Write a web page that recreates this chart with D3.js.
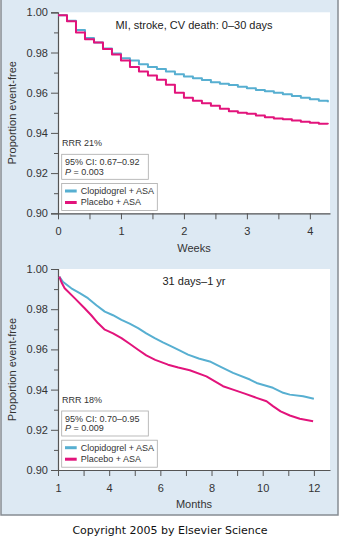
<!DOCTYPE html>
<html>
<head>
<meta charset="utf-8">
<script src="https://cdn.jsdelivr.net/npm/d3@7"></script>
<style>
  body { margin: 0; background: #fff; }
  svg { display: block; font-family: "Liberation Sans", Arial, sans-serif; }
</style>
</head>
<body>
<svg id="chart" width="341" height="537"></svg>
<script>
// ---- data ----
// 0-30 days, daily Kaplan-Meier steps
const days = [0, 1, 2, 3, 4, 5, 6, 7, 8, 9, 10, 11, 12, 13, 14, 15, 16, 17, 18, 19, 20,
  21, 22, 23, 24, 25, 26, 27, 28, 29, 30]
const clopidogrel30 = [0.9985, 0.9958, 0.9912, 0.9872, 0.9850, 0.9820, 0.9795, 0.9771, 0.9760,
  0.9742, 0.9728, 0.9718, 0.9705, 0.9692, 0.9680, 0.9672, 0.9663, 0.9652, 0.9645, 0.9638,
  0.9630, 0.9622, 0.9614, 0.9607, 0.9600, 0.9592, 0.9583, 0.9575, 0.9567, 0.9560, 0.9553]
const placebo30 = [0.9985, 0.9955, 0.9900, 0.9866, 0.9850, 0.9818, 0.9790, 0.9760, 0.9728,
  0.9705, 0.9685, 0.9665, 0.9640, 0.9600, 0.9575, 0.9560, 0.9548, 0.9535, 0.9520, 0.9508,
  0.9500, 0.9495, 0.9487, 0.9478, 0.9472, 0.9468, 0.9462, 0.9456, 0.9450, 0.9446, 0.9443]

// 31 days - 1 yr, [axis position, proportion]
const clopidogrelYear = [[2.05, 0.9962], [2.2, 0.9935], [2.52, 0.9904], [2.85, 0.9880],
  [3.17, 0.9855], [3.5, 0.9820], [3.83, 0.9788], [4.15, 0.9770], [4.48, 0.9747],
  [4.8, 0.9728], [5.13, 0.9706], [5.45, 0.9680], [5.78, 0.9656], [6.1, 0.9635],
  [6.43, 0.9615], [6.75, 0.9595], [7.08, 0.9574], [7.5, 0.9555], [7.93, 0.9540],
  [8.32, 0.9516], [8.84, 0.9483], [9.5, 0.9450], [9.76, 0.9433], [10.4, 0.9409],
  [10.8, 0.9384], [11.06, 0.9375], [11.58, 0.9367], [12.0, 0.9354]]
const placeboYear = [[2.05, 0.9962], [2.15, 0.9930], [2.26, 0.9904], [2.65, 0.9855],
  [3.04, 0.9805], [3.3, 0.9770], [3.56, 0.9731], [3.83, 0.9698], [4.15, 0.9680],
  [4.48, 0.9656], [4.8, 0.9628], [5.13, 0.9598], [5.45, 0.9570], [5.8, 0.9548],
  [6.3, 0.9524], [6.7, 0.9510], [7.15, 0.9496], [7.8, 0.9466], [8.45, 0.9417],
  [8.84, 0.9400], [9.3, 0.9380], [9.76, 0.9359], [10.15, 0.9342], [10.4, 0.9318],
  [10.7, 0.9292], [11.06, 0.9271], [11.45, 0.9255], [11.97, 0.9243]]

const yMajor = [0.90, 0.92, 0.94, 0.96, 0.98, 1.00]
const yMinor = [0.91, 0.93, 0.95, 0.97, 0.99]
const weekTicks = [0, 1, 2, 3, 4]
const weekMinor = [0.5, 1.5, 2.5, 3.5]
const monthTicks = [2, 4, 6, 8, 10, 12]
const monthLabels = ['1', '4', '6', '8', '10', '12']
const monthMinor = [3, 5, 7, 9, 11]
const seriesNames = ['Clopidogrel + ASA', 'Placebo + ASA']
const colors = ['#57afd1', '#e2137b']

const svg = d3.select('#chart')

// outer frame
svg.append('rect')
  .attr('x', 1).attr('y', -2).attr('width', 337).attr('height', 517)
  .attr('fill', '#dde9f3').attr('stroke', '#868c93').attr('stroke-width', 1.5)

function panel(cfg) {
  const oy = cfg.offset
  const left = 58, right = 330, top = oy + 12.3, bottom = oy + 213.3

  const x = d3.scaleLinear().domain(cfg.xDomain).range([left, right])
  const y = d3.scaleLinear().domain([0.90, 1.00]).range([bottom, top])

  const g = svg.append('g')

  g.append('rect')
    .attr('x', left).attr('y', top).attr('width', right - left).attr('height', bottom - top)
    .attr('fill', '#fff')

  // y axis
  const yAxis = g.append('g').attr('transform', `translate(${left},0)`)
  yAxis.call(d3.axisLeft(y).tickValues(yMajor).tickFormat(d3.format('.2f'))
    .tickSize(7).tickPadding(3))
  yAxis.append('g').call(d3.axisLeft(y).tickValues(yMinor).tickFormat('').tickSize(4))
    .select('.domain').remove()

  // x axis
  const xAxis = g.append('g').attr('transform', `translate(0,${bottom})`)
  xAxis.call(d3.axisBottom(x).tickValues(cfg.xTicks)
    .tickFormat((d, i) => cfg.xLabels[i]).tickSize(6).tickPadding(8).tickSizeOuter(0))
  xAxis.append('g').call(d3.axisBottom(x).tickValues(cfg.xMinor).tickFormat('').tickSize(6))
    .select('.domain').remove()

  g.selectAll('.domain').attr('stroke', '#555').attr('stroke-width', 1.2)
  g.selectAll('.tick line').attr('stroke', '#555')
  g.selectAll('.tick text').attr('font-size', 11).attr('fill', '#333')
    .attr('font-family', '"Liberation Sans", Arial, sans-serif')

  // curves
  const line = d3.line().x(d => x(d[0])).y(d => y(d[1])).curve(cfg.curve)
  cfg.series.forEach((s, i) => {
    g.append('path').datum(s)
      .attr('fill', 'none').attr('stroke', colors[i]).attr('stroke-width', 2)
      .attr('stroke-linejoin', 'round')
      .attr('d', line)
  })

  // texts
  g.append('text').attr('x', (left + right) / 2).attr('y', oy + 28.5)
    .attr('text-anchor', 'middle').attr('font-size', 11).attr('fill', '#222')
    .text(cfg.title)
  g.append('text').attr('x', (left + right) / 2).attr('y', oy + 251.5)
    .attr('text-anchor', 'middle').attr('font-size', 11).attr('fill', '#333')
    .text(cfg.xTitle)
  g.append('text')
    .attr('transform', `translate(15.5,${(top + bottom) / 2}) rotate(-90)`)
    .attr('text-anchor', 'middle').attr('font-size', 11).attr('fill', '#333')
    .text('Proportion event-free')

  // annotations
  g.append('text').attr('x', 62).attr('y', oy + 146).attr('font-size', 9).attr('fill', '#333')
    .text(cfg.rrr)
  g.append('rect').attr('x', 61.7).attr('y', oy + 154.3).attr('width', 86.6).attr('height', 25)
    .attr('fill', '#fff').attr('stroke', '#aaa').attr('stroke-width', 0.8)
  g.append('text').attr('x', 65).attr('y', oy + 165).attr('font-size', 9).attr('fill', '#333')
    .text(cfg.ci)
  const pt = g.append('text').attr('x', 65).attr('y', oy + 174.5).attr('font-size', 9).attr('fill', '#333')
  pt.append('tspan').attr('font-style', 'italic').text('P')
  pt.append('tspan').text(' = ' + cfg.p)

  g.append('rect').attr('x', 61.7).attr('y', oy + 183.5).attr('width', 95.6).attr('height', 27)
    .attr('fill', '#fff').attr('stroke', '#aaa').attr('stroke-width', 0.8)
  seriesNames.forEach((name, i) => {
    g.append('rect').attr('x', 65).attr('y', oy + 189.5 + i * 11.5).attr('width', 11.7).attr('height', 3)
      .attr('fill', colors[i])
    g.append('text').attr('x', 80.7).attr('y', oy + 194.3 + i * 11)
      .attr('font-size', 9).attr('fill', '#333').text(name)
  })
}

panel({
  offset: 0,
  xDomain: [0, 4.32],
  xTicks: weekTicks,
  xLabels: weekTicks.map(String),
  xMinor: weekMinor,
  curve: d3.curveStepAfter,
  series: [days.map((d, i) => [d / 7, clopidogrel30[i]]), days.map((d, i) => [d / 7, placebo30[i]])],
  title: 'MI, stroke, CV death: 0\u201330 days',
  xTitle: 'Weeks',
  rrr: 'RRR 21%',
  ci: '95% CI: 0.67\u20130.92',
  p: '0.003'
})

panel({
  offset: 256.7,
  xDomain: [2, 12.63],
  xTicks: monthTicks,
  xLabels: monthLabels,
  xMinor: monthMinor,
  curve: d3.curveLinear,
  series: [clopidogrelYear, placeboYear],
  title: '31 days\u20131 yr',
  xTitle: 'Months',
  rrr: 'RRR 18%',
  ci: '95% CI: 0.70\u20130.95',
  p: '0.009'
})

svg.append('text').attr('x', 170).attr('y', 534)
  .attr('text-anchor', 'middle').attr('font-family', '"DejaVu Sans", Verdana, sans-serif')
  .attr('font-size', 11).attr('fill', '#111')
  .text('Copyright 2005 by Elsevier Science')
</script>
</body>
</html>
